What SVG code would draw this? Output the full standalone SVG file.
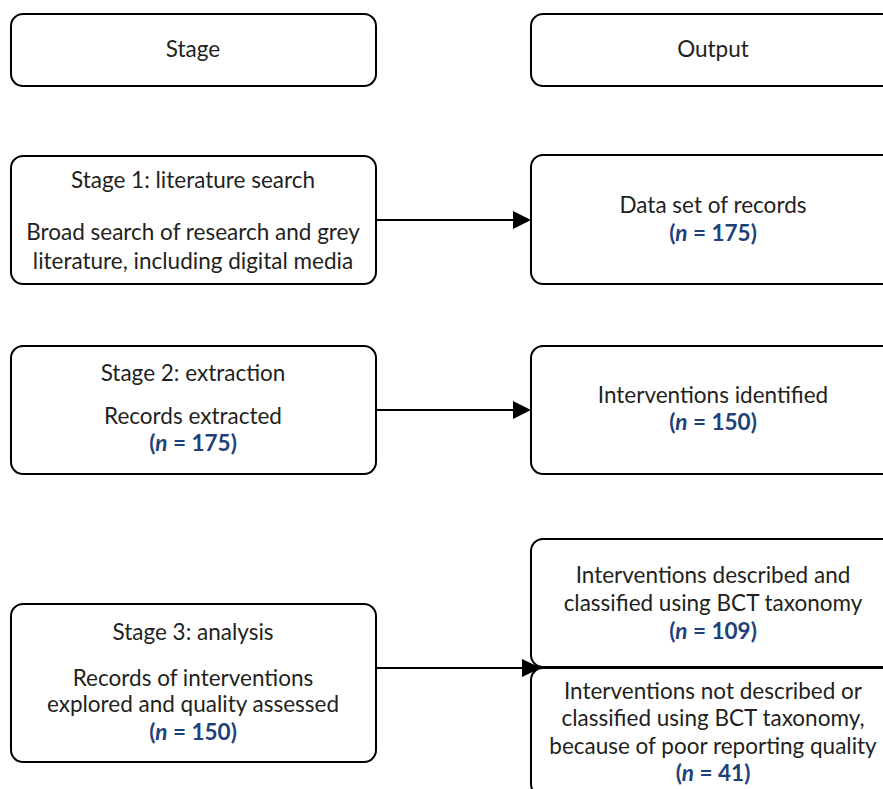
<svg xmlns="http://www.w3.org/2000/svg" width="883" height="789" viewBox="0 0 883 789">
<defs>
<style>
.box{fill:#fff;stroke:#000;stroke-width:2}
.t{font-family:Lato,"Open Sans","Liberation Sans",sans-serif;font-size:22.5px;fill:#231f20;text-anchor:middle}
.n{font-family:Lato,"Open Sans","Liberation Sans",sans-serif;font-size:22.5px;fill:#1d4178;font-weight:bold;text-anchor:middle}
.c{stroke:#000;stroke-width:2;fill:none}
.ah{fill:#000}
</style>
</defs>
<rect width="883" height="789" fill="#fff"/>
<g id="stage-header">
<rect class="box" x="11" y="14" width="365" height="72" rx="12"/>
<text class="t" x="193" y="57">Stage</text>
</g>
<g id="output-header">
<rect class="box" x="531" y="14" width="366" height="72" rx="12"/>
<text class="t" x="713" y="57">Output</text>
</g>
<g id="stage1">
<rect class="box" x="11" y="156" width="365" height="128" rx="12"/>
<text class="t" x="193" y="188">Stage 1: literature search</text>
<text class="t" x="193" y="240">Broad search of research and grey</text>
<text class="t" x="193" y="269">literature, including digital media</text>
</g>
<g id="output1">
<rect class="box" x="531" y="155" width="366" height="129" rx="12"/>
<text class="t" x="713" y="213">Data set of records</text>
<text class="n" x="713" y="241">(<tspan font-style="italic">n</tspan> = 175)</text>
</g>
<g id="stage2">
<rect class="box" x="11" y="346" width="365" height="128" rx="12"/>
<text class="t" x="193" y="381">Stage 2: extraction</text>
<text class="t" x="193" y="424">Records extracted</text>
<text class="n" x="193" y="451">(<tspan font-style="italic">n</tspan> = 175)</text>
</g>
<g id="output2">
<rect class="box" x="531" y="346" width="366" height="128" rx="12"/>
<text class="t" x="713" y="403">Interventions identified</text>
<text class="n" x="713" y="430">(<tspan font-style="italic">n</tspan> = 150)</text>
</g>
<g id="stage3">
<rect class="box" x="11" y="604" width="365" height="158" rx="12"/>
<text class="t" x="193" y="640">Stage 3: analysis</text>
<text class="t" x="193" y="686">Records of interventions</text>
<text class="t" x="193" y="712">explored and quality assessed</text>
<text class="n" x="193" y="740">(<tspan font-style="italic">n</tspan> = 150)</text>
</g>
<g id="output3a">
<rect class="box" x="531" y="539" width="366" height="128" rx="12"/>
<text class="t" x="713" y="583">Interventions described and</text>
<text class="t" x="713" y="611">classified using BCT taxonomy</text>
<text class="n" x="713" y="639">(<tspan font-style="italic">n</tspan> = 109)</text>
</g>
<g id="output3b">
<rect class="box" x="531" y="668" width="366" height="128" rx="12"/>
<text class="t" x="713" y="699">Interventions not described or</text>
<text class="t" x="713" y="726">classified using BCT taxonomy,</text>
<text class="t" x="713" y="754">because of poor reporting quality</text>
<text class="n" x="713" y="781">(<tspan font-style="italic">n</tspan> = 41)</text>
</g>
<g id="connectors">
<line class="c" x1="376" y1="220" x2="515" y2="220"/>
<path class="ah" d="M513,211 L531,220 L513,229 Z"/>
<line class="c" x1="376" y1="410" x2="515" y2="410"/>
<path class="ah" d="M513,401 L531,410 L513,419 Z"/>
<line class="c" x1="376" y1="668" x2="525" y2="668"/>
<path class="ah" d="M522,659 L541,668 L522,677 Z"/>
</g>
</svg>
